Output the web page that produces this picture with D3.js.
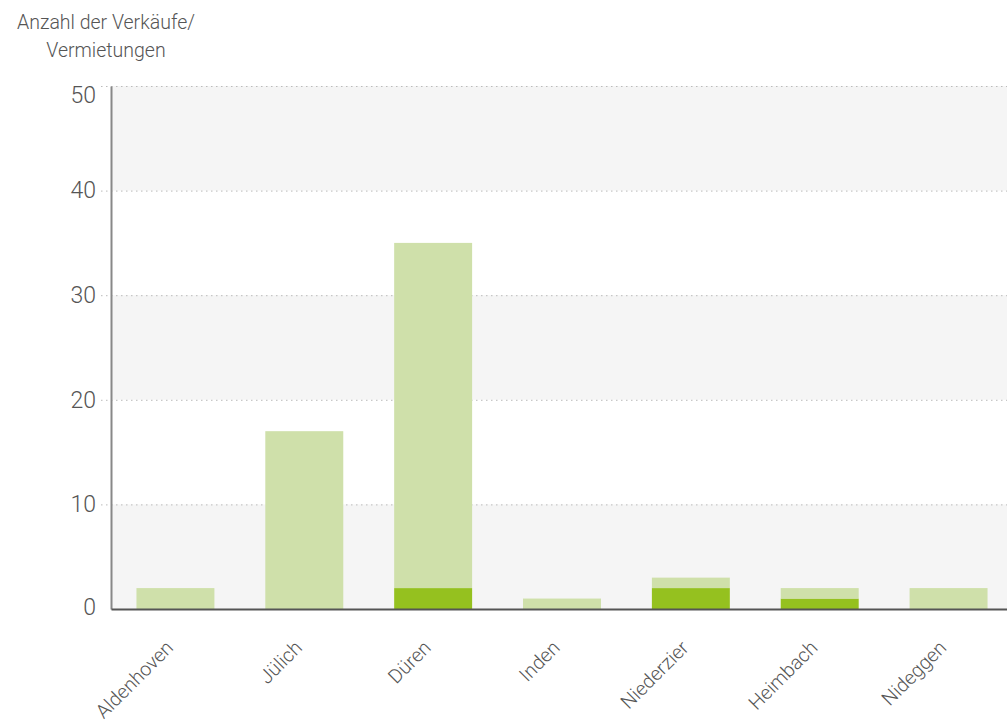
<!DOCTYPE html>
<html><head><meta charset="utf-8">
<script src="https://cdn.jsdelivr.net/npm/d3@7"></script>
<style>body{margin:0;background:#fff;} text{font-family:Roboto,"Liberation Sans",sans-serif;}</style>
</head><body>
<svg id="c" width="1007" height="722"></svg>
<script>
const categories = ["Aldenhoven","Jülich","Düren","Inden","Niederzier","Heimbach","Nideggen"];
const darkValues = [0,0,2,0,2,1,0];
const lightValues = [2,17,33,1,1,1,2];
const yTicks = [0,10,20,30,40,50];
const titleLines = ["Anzahl der Verkäufe/","Vermietungen"];

(function(){
const svg = d3.select("#c");
const mLeft = 111, mRight = 1007, mTop = 86, mBottom = 609;
const x = d3.scaleBand().domain(categories).range([mLeft, 1013]).paddingInner(0.395).paddingOuter(0.1975);
const y = d3.scaleLinear().domain([0,50]).range([mBottom, mTop]);

// bands
for (let i = 0; i < yTicks.length - 1; i++) {
  if (i % 2 === 0) {
    svg.append("rect").attr("x", mLeft).attr("width", mRight-mLeft)
      .attr("y", y(yTicks[i+1])).attr("height", y(yTicks[i]) - y(yTicks[i+1]))
      .attr("fill", "#f5f5f5");
  }
}
// gridlines
svg.append("g").selectAll("line").data(yTicks.filter(d=>d>0)).join("line")
  .attr("x1", 101).attr("x2", mRight).attr("y1", d=>y(d)+0.5).attr("y2", d=>y(d)+0.5)
  .attr("stroke", "#bbb").attr("stroke-dasharray", "1.5,3.5").attr("stroke-width", 1);

const data = categories.map((c,i)=>({cat:c, dark:darkValues[i], light:lightValues[i]}));
const stack = d3.stack().keys(["dark","light"])(data);
const colors = {dark:"#95c11f", light:"#cfe0aa"};
svg.append("g").selectAll("g").data(stack).join("g").attr("fill", s=>colors[s.key])
  .selectAll("rect").data(s=>s).join("rect")
  .attr("x", d=>x(d.data.cat)).attr("width", x.bandwidth())
  .attr("y", d=>y(d[1])).attr("height", d=>y(d[0]) - y(d[1]));

// y axis
const ya = svg.append("g").attr("transform", `translate(${mLeft},0)`)
  .call(d3.axisLeft(y).tickValues(yTicks).tickSize(0).tickPadding(15));
ya.select(".domain").attr("stroke", "#888").attr("stroke-width", 2);
ya.selectAll("text").attr("font-size", 23).attr("fill", "#555").attr("font-weight", 300)
  .attr("dy", d => d === 50 ? "0.7em" : (d === 0 ? "0.25em" : "0.32em"));

// x axis
const xa = svg.append("g").attr("transform", `translate(0,${mBottom})`)
  .call(d3.axisBottom(x).tickSize(0).tickPadding(0));
xa.select(".domain").attr("stroke", "#555").attr("stroke-width", 2);
xa.selectAll("text").attr("font-size", 19.5).attr("fill", "#555").attr("font-weight", 300)
  .attr("text-anchor", "end").attr("dy", 0)
  .attr("transform", "translate(-1,40) rotate(-45)");

// title
svg.append("text").attr("x", 106).attr("y", 29).attr("text-anchor","middle")
  .attr("font-size", 19.5).attr("fill", "#555").attr("font-weight", 300)
  .selectAll("tspan").data(titleLines).join("tspan")
  .attr("x", 106).attr("dy", (d,i)=> i ? 28 : 0).text(d=>d);
})();
</script>
</body></html>
